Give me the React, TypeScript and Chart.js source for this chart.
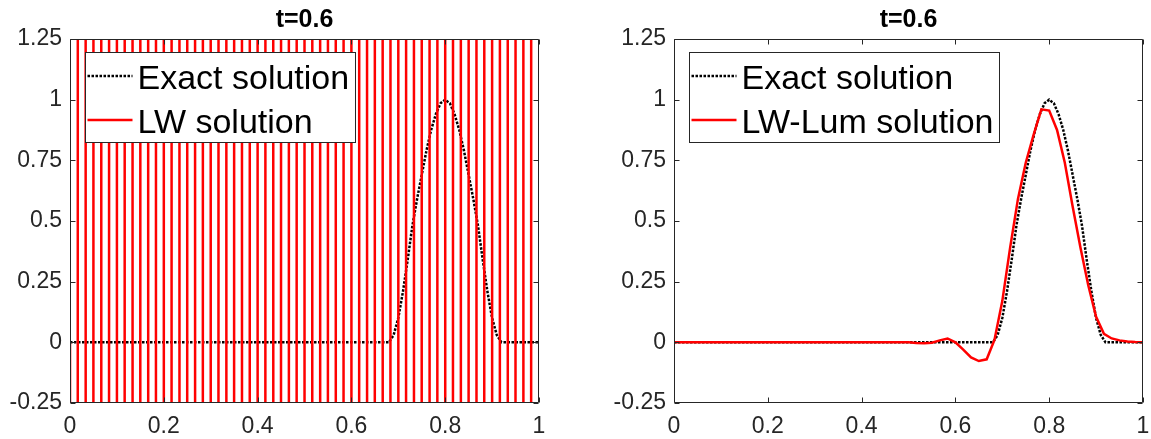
import React, { useEffect, useRef } from 'react';
import { Chart, registerables } from 'chart.js';

Chart.register(...registerables);

// ---------- data ----------
const titleText = 't=0.6';
const xTicks = [0, 0.2, 0.4, 0.6, 0.8, 1];
const xTickLabels = ['0', '0.2', '0.4', '0.6', '0.8', '1'];
const yTicks = [-0.25, 0, 0.25, 0.5, 0.75, 1, 1.25];
const yTickLabels = ['-0.25', '0', '0.25', '0.5', '0.75', '1', '1.25'];

const exactLabel = 'Exact solution';
const lwLabel = 'LW solution';
const lumLabel = 'LW-Lum solution';

const exactX = [0, 0.68, 0.69, 0.7, 0.71, 0.72, 0.73, 0.74, 0.75, 0.76, 0.77, 0.78, 0.79, 0.8,
  0.81, 0.82, 0.83, 0.84, 0.85, 0.86, 0.87, 0.88, 0.89, 0.9, 0.91, 0.92, 1];
const exactY = [0, 0, 0.03, 0.1, 0.21, 0.34, 0.48, 0.59, 0.69, 0.79, 0.875, 0.94, 0.985, 1,
  0.985, 0.94, 0.875, 0.79, 0.69, 0.59, 0.48, 0.34, 0.21, 0.1, 0.03, 0, 0];

// Lax-Wendroff: blown-up oscillation (values far outside the axis range)
const lwX = [0, 0.0083, 0.025, 0.0417, 0.0583, 0.075, 0.0917, 0.1083, 0.125, 0.1417, 0.1583,
  0.175, 0.1917, 0.2083, 0.225, 0.2417, 0.2583, 0.275, 0.2917, 0.3083, 0.325, 0.3417, 0.3583,
  0.375, 0.3917, 0.4083, 0.425, 0.4417, 0.4583, 0.475, 0.4917, 0.5083, 0.525, 0.5417, 0.5583,
  0.575, 0.5917, 0.6083, 0.625, 0.6417, 0.6583, 0.675, 0.6917, 0.7083, 0.725, 0.7417, 0.7583,
  0.775, 0.7917, 0.8083, 0.825, 0.8417, 0.8583, 0.875, 0.8917, 0.9083, 0.925, 0.9417, 0.9583,
  0.975, 0.9917];
const lwY = [0,
  -1000, 1000, -1000, 1000, -1000, 1000, -1000, 1000, -1000, 1000,
  -1000, 1000, -1000, 1000, -1000, 1000, -1000, 1000, -1000, 1000,
  -1000, 1000, -1000, 1000, -1000, 1000, -1000, 1000, -1000, 1000,
  -1000, 1000, -1000, 1000, -1000, 1000, -1000, 1000, -1000, 1000,
  -1000, 1000, -1000, 1000, -1000, 1000, -1000, 1000, -1000, 1000,
  -1000, 1000, -1000, 1000, -1000, 1000, -1000, 1000, -1000, 1000];

const lumX = [0, 0.45, 0.5, 0.5167, 0.5333, 0.55, 0.5667, 0.5833, 0.6, 0.6167, 0.6333, 0.65,
  0.6667, 0.6833, 0.7, 0.7167, 0.7333, 0.75, 0.7667, 0.7833, 0.8, 0.8167, 0.8333, 0.85, 0.8667,
  0.8833, 0.9, 0.9167, 0.9333, 0.95, 0.9667, 0.9833, 1];
const lumY = [0, 0, 0, -0.003, -0.004, -0.002, 0.008, 0.016, 0.0, -0.03, -0.062, -0.077,
  -0.07, 0.01, 0.17, 0.39, 0.59, 0.74, 0.855, 0.96, 0.955, 0.875, 0.74, 0.56, 0.39,
  0.235, 0.105, 0.035, 0.016, 0.008, 0.003, 0.001, 0];

// ---------- styles ----------
const FONT = '"Liberation Sans", Arial, Helvetica, sans-serif';
const AXIS_COLOR = '#262626';
const RED = '#ff0000';
const H = 439;

const toPoints = (xs: number[], ys: number[]) => xs.map((x, i) => ({ x, y: ys[i] }));

const framePlugin = {
  id: 'frameBox',
  afterDatasetsDraw(chart: any) {
    const { ctx, chartArea: a, scales } = chart;
    const L = Math.round(a.left) + 0.5;
    const R = Math.round(a.right) - 0.5;
    const T = Math.round(a.top) + 0.5;
    const B = Math.round(a.bottom) - 0.5;
    const tl = 5;
    ctx.save();
    ctx.strokeStyle = AXIS_COLOR;
    ctx.lineWidth = 1;
    ctx.beginPath();
    ctx.rect(L, T, R - L, B - T);
    xTicks.forEach((v) => {
      const p = Math.round(scales.x.getPixelForValue(v)) + 0.5;
      ctx.moveTo(p, B); ctx.lineTo(p, B - tl);
      ctx.moveTo(p, T); ctx.lineTo(p, T + tl);
    });
    yTicks.forEach((v) => {
      const p = Math.round(scales.y.getPixelForValue(v)) + 0.5;
      ctx.moveTo(L, p); ctx.lineTo(L + tl, p);
      ctx.moveTo(R, p); ctx.lineTo(R - tl, p);
    });
    ctx.stroke();
    ctx.restore();
  },
};

const titlePlugin = {
  id: 'panelTitle',
  afterDraw(chart: any) {
    const { ctx, chartArea: a } = chart;
    ctx.save();
    ctx.font = `bold 25px ${FONT}`;
    ctx.fillStyle = '#000';
    ctx.textAlign = 'center';
    ctx.textBaseline = 'alphabetic';
    ctx.fillText(titleText, (a.left + a.right) / 2, 27);
    ctx.restore();
  },
};

const boxLegendPlugin = {
  id: 'boxLegend',
  afterDraw(chart: any) {
    const { ctx, chartArea: a } = chart;
    const ds = chart.data.datasets;
    ctx.save();
    ctx.font = `34px ${FONT}`;
    const maxW = Math.max(...ds.map((d: any) => ctx.measureText(d.label).width));
    const left = Math.round(a.left) + 15 + 0.5;
    const top = Math.round(a.top) + 13 + 0.5;
    const w = Math.round(52 + maxW + 6);
    const h = 90;
    ctx.fillStyle = '#fff';
    ctx.fillRect(left, top, w, h);
    ctx.strokeStyle = AXIS_COLOR;
    ctx.lineWidth = 1;
    ctx.strokeRect(left, top, w, h);
    ds.forEach((d: any, i: number) => {
      const ly = top + 23.5 + i * 44;
      ctx.beginPath();
      ctx.strokeStyle = d.borderColor;
      ctx.lineWidth = d.borderWidth;
      ctx.setLineDash(d.borderDash || []);
      ctx.moveTo(left + 2, ly);
      ctx.lineTo(left + 47, ly);
      ctx.stroke();
      ctx.setLineDash([]);
      ctx.fillStyle = '#000';
      ctx.textAlign = 'left';
      ctx.textBaseline = 'alphabetic';
      ctx.fillText(d.label, left + 52, top + 36 + i * 44);
    });
    ctx.restore();
  },
};

type PanelProps = {
  left: number;
  width: number;
  areaLeft: number;
  areaRight: number;
  redLabel: string;
  redX: number[];
  redY: number[];
};

function Panel({ left, width, areaLeft, areaRight, redLabel, redX, redY }: PanelProps) {
  const ref = useRef<HTMLCanvasElement>(null);
  useEffect(() => {
    if (!ref.current) return;
    const tickFont = { family: FONT, size: 23 };
    const chart = new Chart(ref.current, {
      type: 'line',
      data: {
        datasets: [
          {
            label: exactLabel,
            data: toPoints(exactX, exactY),
            borderColor: '#000000',
            borderWidth: 2.5,
            borderDash: [2.5, 1.5],
            pointRadius: 0,
            tension: 0,
            fill: false,
            order: 1,
          },
          {
            label: redLabel,
            data: toPoints(redX, redY),
            borderColor: RED,
            borderWidth: 2.5,
            pointRadius: 0,
            tension: 0,
            fill: false,
            order: 0,
            clip: 0,
          },
        ],
      } as any,
      options: {
        animation: false,
        responsive: false,
        devicePixelRatio: 1,
        events: [],
        layout: { padding: { left: 0, top: 39, right: width - areaRight, bottom: 0 } },
        plugins: {
          legend: { display: false },
          tooltip: { enabled: false },
          title: { display: false },
        },
        scales: {
          x: {
            type: 'linear',
            min: 0,
            max: 1,
            grid: { display: false, drawTicks: false },
            border: { display: false },
            afterBuildTicks: (s: any) => { s.ticks = xTicks.map((v) => ({ value: v })); },
            afterFit: (s: any) => {
              s.height = H - 403;
              s.paddingLeft = 0; s.paddingRight = 0; s.paddingTop = 0; s.paddingBottom = 0;
            },
            ticks: {
              autoSkip: false,
              maxRotation: 0,
              padding: 10,
              color: AXIS_COLOR,
              font: tickFont,
              callback: (_v: any, i: number) => xTickLabels[i],
            },
          },
          y: {
            type: 'linear',
            min: -0.25,
            max: 1.25,
            grid: { display: false, drawTicks: false },
            border: { display: false },
            afterBuildTicks: (s: any) => { s.ticks = yTicks.map((v) => ({ value: v })); },
            afterFit: (s: any) => {
              s.width = areaLeft;
              s.paddingLeft = 0; s.paddingRight = 0; s.paddingTop = 0; s.paddingBottom = 0;
            },
            ticks: {
              autoSkip: false,
              padding: 8,
              color: AXIS_COLOR,
              font: tickFont,
              callback: (_v: any, i: number) => yTickLabels[i],
            },
          },
        },
      } as any,
      plugins: [framePlugin, titlePlugin, boxLegendPlugin],
    });
    return () => chart.destroy();
  }, []);
  return (
    <canvas
      ref={ref}
      width={width}
      height={H}
      style={{ position: 'absolute', left, top: 0, width, height: H, display: 'block' }}
    />
  );
}

export default function App() {
  return (
    <div style={{ position: 'fixed', left: 0, top: 0, width: 1151, height: H, background: '#fff', overflow: 'hidden' }}>
      <Panel left={0} width={575} areaLeft={70} areaRight={539} redLabel={lwLabel} redX={lwX} redY={lwY} />
      <Panel left={575} width={576} areaLeft={99} areaRight={568} redLabel={lumLabel} redX={lumX} redY={lumY} />
    </div>
  );
}
